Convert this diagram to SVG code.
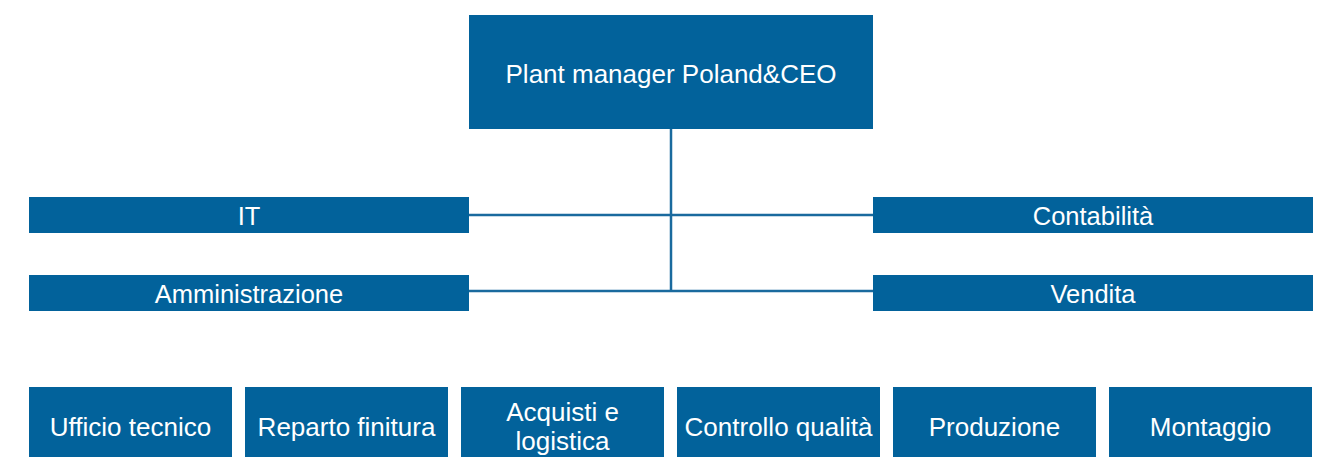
<svg xmlns="http://www.w3.org/2000/svg" width="1322" height="457" viewBox="0 0 1322 457">
<style>
.box{fill:#02629b}
.t{fill:#ffffff;font-family:"Liberation Sans",Arial,sans-serif;text-anchor:middle;dominant-baseline:central}
.t1{font-size:26px}
.t2{font-size:25.5px}
.t3{font-size:26px}
.c{stroke:#1a6a9e;stroke-width:2.5;fill:none}
</style>
<rect width="1322" height="457" fill="#ffffff"/>
<g id="connectors">
<line class="c" x1="671" y1="128" x2="671" y2="291"/>
<line class="c" x1="468" y1="215" x2="874" y2="215"/>
<line class="c" x1="468" y1="291" x2="874" y2="291"/>
</g>
<g id="ceo"><rect class="box" x="469" y="15" width="404" height="114"/><text class="t t1" x="671" y="74">Plant manager Poland&amp;CEO</text></g>
<g id="it"><rect class="box" x="29" y="197" width="440" height="36"/><text class="t t2" x="249" y="216">IT</text></g>
<g id="amministrazione"><rect class="box" x="29" y="275" width="440" height="36"/><text class="t t2" x="249" y="294">Amministrazione</text></g>
<g id="contabilita"><rect class="box" x="873" y="197" width="440" height="36"/><text class="t t2" x="1093" y="216">Contabilità</text></g>
<g id="vendita"><rect class="box" x="873" y="275" width="440" height="36"/><text class="t t2" x="1093" y="294">Vendita</text></g>
<g id="ufficio"><rect class="box" x="29" y="387" width="203" height="80"/><text class="t t3" x="130.5" y="427">Ufficio tecnico</text></g>
<g id="reparto"><rect class="box" x="245" y="387" width="203" height="80"/><text class="t t3" x="346.5" y="427">Reparto finitura</text></g>
<g id="acquisti"><rect class="box" x="461" y="387" width="203" height="80"/><text class="t t3" x="562.5" y="412">Acquisti e</text><text class="t t3" x="562.5" y="441">logistica</text></g>
<g id="controllo"><rect class="box" x="677" y="387" width="203" height="80"/><text class="t t3" x="778.5" y="427">Controllo qualità</text></g>
<g id="produzione"><rect class="box" x="893" y="387" width="203" height="80"/><text class="t t3" x="994.5" y="427">Produzione</text></g>
<g id="montaggio"><rect class="box" x="1109" y="387" width="203" height="80"/><text class="t t3" x="1210.5" y="427">Montaggio</text></g>
</svg>
